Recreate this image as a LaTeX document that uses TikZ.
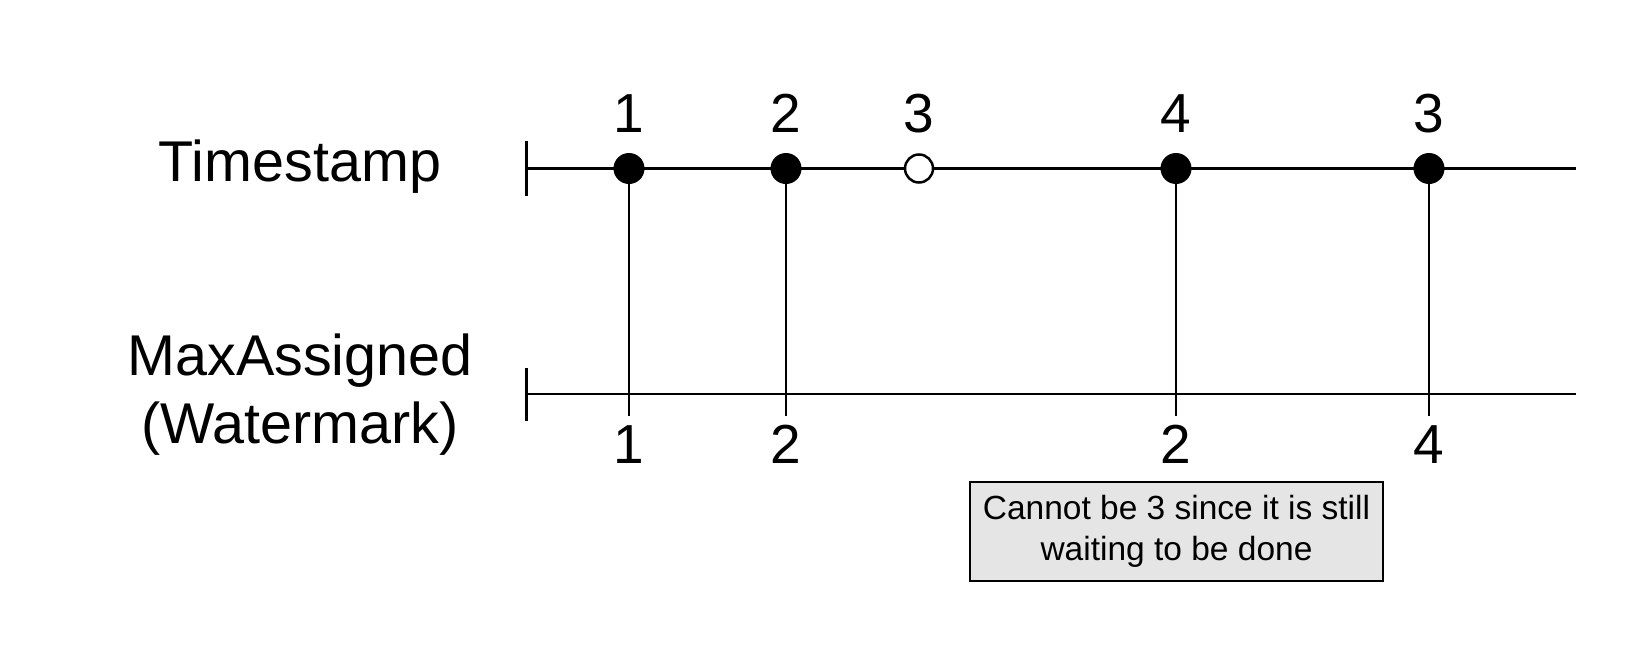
\documentclass[tikz,border=0pt]{standalone}
\usepackage{fontspec}
\setmainfont{Liberation Sans}
\begin{document}
\begin{tikzpicture}[x=1pt,y=-1pt,
  big/.style={inner sep=0pt,font=\fontsize{55}{66}\selectfont},
  lbl/.style={inner sep=0pt,font=\fontsize{57.5}{68}\selectfont},
  axis/.style={line width=2.5pt},
  drop/.style={line width=2pt},
  fulldot/.style={circle,fill=black,minimum size=31pt,inner sep=0pt},
  opendot/.style={circle,draw=black,fill=white,line width=2.5pt,minimum size=28pt,inner sep=0pt},
  notebox/.style={draw=black,line width=2pt,fill=black!10,minimum width=413pt,minimum height=99pt,
    align=center,inner sep=0pt,font=\fontsize{33.5}{41}\selectfont}]
\useasboundingbox (0,0) rectangle (1650,656);
\fill[white] (0,0) rectangle (1650,656);

% axis end points
\coordinate (ts) at (526.5,168.5);
\coordinate (te) at (1576,168.5);
\coordinate (tt) at (526.5,141);
\coordinate (tb) at (526.5,196);
\coordinate (ms) at (526.5,394);
\coordinate (me) at (1576,394);
\coordinate (mt) at (526.5,368);
\coordinate (mb) at (526.5,421);

\draw[axis] (ts) -- (te);
\draw[axis] (tt) -- (tb);
\draw[axis] (ms) -- (me);
\draw[axis] (mt) -- (mb);

% drop ends
\coordinate (e1) at (629,416);
\coordinate (e2) at (786,416);
\coordinate (e4) at (1176,416);
\coordinate (e5) at (1429,416);

% dot positions
\coordinate (p1) at (629,168.5);
\coordinate (p2) at (786,168.5);
\coordinate (p4) at (1176,168.5);
\coordinate (p5) at (1429,168.5);

\draw[drop] (p1) -- (e1);
\draw[drop] (p2) -- (e2);
\draw[drop] (p4) -- (e4);
\draw[drop] (p5) -- (e5);

% dots
\node[fulldot] (d1) at (p1) {};
\node[fulldot] (d2) at (p2) {};
\node[opendot] (d3) at (919,168.5) {};
\node[fulldot] (d4) at (p4) {};
\node[fulldot] (d5) at (p5) {};

% top values
\node[big,anchor=base] (t1) at (629,132) {1};
\node[big,anchor=base] (t2) at (786,132) {2};
\node[big,anchor=base] (t3) at (919,132) {3};
\node[big,anchor=base] (t4) at (1176,132) {4};
\node[big,anchor=base] (t5) at (1429,132) {3};

% bottom values
\node[big,anchor=base] (b1) at (629,463) {1};
\node[big,anchor=base] (b2) at (786,463) {2};
\node[big,anchor=base] (b4) at (1176,463) {2};
\node[big,anchor=base] (b5) at (1429,463) {4};

% row labels
\node[lbl,anchor=base] (lts) at (300,181) {Timestamp};
\node[lbl,anchor=base] (lma) at (300,375) {MaxAssigned};
\node[lbl,anchor=base] (lmb) at (300,443) {(Watermark)};

% note
\node[notebox] (note) at (1176.5,531.5) {Cannot be 3 since it is still\\waiting to be done};
\end{tikzpicture}
\end{document}
